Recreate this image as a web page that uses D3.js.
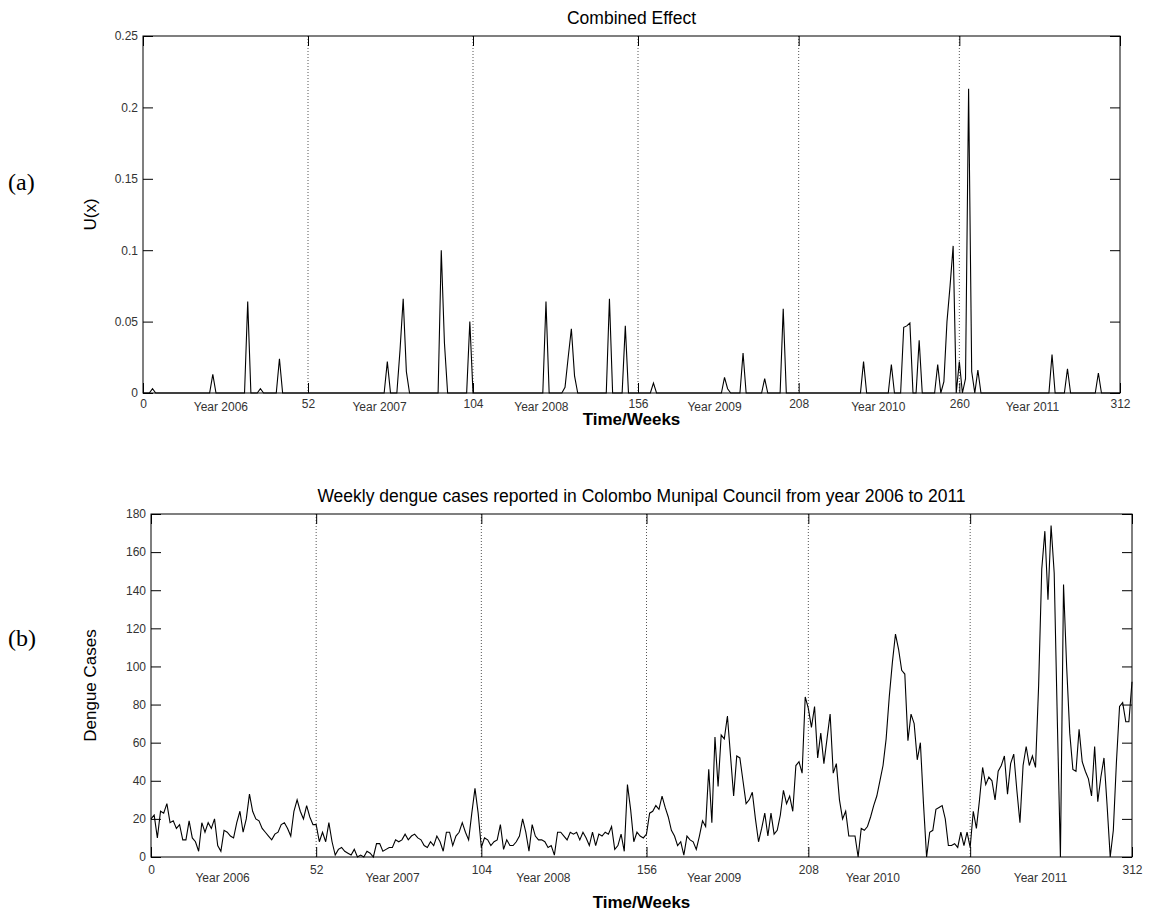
<!DOCTYPE html>
<html lang="en">
<head>
<meta charset="UTF-8">
<title>Combined Effect / Weekly dengue cases</title>
<script src="https://cdn.jsdelivr.net/npm/d3@7.9.0/dist/d3.min.js"></script>
<style>
    body { margin: 0; background: #fff; }
    svg { display: block; font-family: "Liberation Sans", Arial, sans-serif; }
    .tick text { font-size: 12px; fill: #333; }
    .tick line { stroke: #000; }
    .panel-tag { font-family: "Liberation Serif", "Times New Roman", serif; font-size: 24px; }
</style>
</head>
<body>
<svg id="chart" width="1156" height="914"></svg>
<script>
// ---- data ----
const weekTicks = [0, 52, 104, 156, 208, 260, 312];
const yearBounds = [52, 104, 156, 208, 260];
const yearLabels = ['Year 2006', 'Year 2007', 'Year 2008', 'Year 2009', 'Year 2010', 'Year 2011'];
const topYearLabelWeeks = [16, 66, 117, 172, 225, 275];
const bottomYearLabelWeeks = [14, 67.5, 115, 169, 220, 274];

// U(x): weeks where the combined effect is non zero (zero every other week)
const uxWeeks  = [3, 22, 33, 37, 43, 77, 81, 82, 83, 94, 95, 103, 127, 133, 134, 135, 136, 147, 152,
                  161, 184, 185, 190, 197, 203, 229, 238, 242, 243, 244, 247, 253, 255, 256, 257, 258,
                  260, 262, 263, 264, 266, 290, 295, 305];
const uxValues = [0.003, 0.013, 0.064, 0.003, 0.024, 0.022, 0.03, 0.066, 0.015, 0.1, 0.035, 0.05, 0.064, 0.004, 0.025, 0.045, 0.012, 0.066, 0.047,
                  0.007, 0.011, 0.003, 0.028, 0.01, 0.059, 0.022, 0.02, 0.046, 0.047, 0.049, 0.037, 0.02, 0.008, 0.05, 0.075, 0.103,
                  0.022, 0.01, 0.213, 0.015, 0.016, 0.027, 0.017, 0.014];
const uTicks = [0, 0.05, 0.1, 0.15, 0.2, 0.25];

// weekly dengue cases, one array per year
const cases2006 = [20, 22, 10, 24, 23, 28, 18, 19, 15, 17, 9, 9, 19, 10, 8, 3, 18, 13, 18, 15,
                   20, 6, 3, 14, 13, 11, 10, 18, 24, 13, 20, 33, 24, 20, 19, 15, 13, 11, 9, 12,
                   13, 17, 18, 15, 11, 24, 30, 24, 20, 27, 21, 17];
const cases2007 = [17, 8, 13, 8, 18, 8, 1, 4, 5, 3, 2, 1, 4, 0, 1, 0, 3, 2, 0, 7,
                   7, 3, 4, 5, 5, 9, 8, 9, 12, 9, 11, 12, 10, 9, 6, 5, 8, 6, 11, 8,
                   3, 13, 13, 6, 11, 13, 18, 13, 9, 23, 36, 23];
const cases2008 = [5, 10, 9, 6, 8, 9, 17, 4, 9, 6, 6, 8, 11, 20, 13, 3, 17, 11, 9, 9,
                   8, 5, 6, 1, 13, 13, 11, 9, 13, 12, 13, 9, 13, 10, 6, 13, 6, 12, 11, 13,
                   12, 16, 4, 6, 12, 3, 38, 25, 8, 13, 11, 10];
const cases2009 = [12, 23, 24, 27, 25, 32, 26, 21, 14, 11, 6, 8, 1, 11, 9, 8, 4, 11, 19, 16,
                   46, 18, 63, 37, 64, 62, 74, 53, 32, 53, 52, 40, 28, 30, 34, 20, 8, 15, 23, 11,
                   23, 12, 14, 22, 35, 28, 32, 24, 48, 50, 44, 84];
const cases2010 = [78, 68, 79, 52, 65, 49, 62, 75, 44, 49, 30, 20, 24, 11, 11, 11, 0, 15, 14, 16,
                   21, 27, 32, 40, 48, 62, 84, 102, 117, 109, 98, 96, 61, 75, 70, 51, 60, 28, 0, 13,
                   14, 25, 26, 27, 20, 6, 6, 7, 5, 13, 6, 13];
const cases2011 = [5, 24, 15, 30, 47, 38, 42, 40, 30, 45, 48, 53, 33, 49, 54, 35, 18, 48, 58, 48,
                   53, 47, 90, 151, 171, 135, 174, 149, 72, 0, 143, 100, 65, 46, 45, 67, 50, 45, 41, 32,
                   58, 29, 42, 52, 27, 0, 14, 50, 79, 81, 71, 71, 92];
const caseTicks = [0, 20, 40, 60, 80, 100, 120, 140, 160, 180];

// ---- build series ----
const uxByWeek = new Map(uxWeeks.map((w, i) => [w, uxValues[i]]));
const uxSeries = d3.range(0, 313).map(w => ({ week: w, value: uxByWeek.get(w) || 0 }));
const caseSeries = [].concat(cases2006, cases2007, cases2008, cases2009, cases2010, cases2011)
    .map((v, i) => ({ week: i, value: v }));

const svg = d3.select('#chart');
svg.append('rect').attr('width', 1156).attr('height', 914).attr('fill', '#fff');

// draws one MATLAB-like panel
function drawPanel(opts) {
    const { box, yDomain, yTicks, series, title, ylabel, yearWeeks, tag } = opts;
    // the scanned figure is a little stretched on the left half, so use a mid anchor
    const x = d3.scaleLinear().domain([0, 156, 312]).range([box.left, box.mid, box.right]);
    const y = d3.scaleLinear().domain(yDomain).range([box.bottom, box.top]);
    const g = svg.append('g');

    // dotted year separators
    g.selectAll('line.sep')
        .data(yearBounds)
        .enter()
        .append('line')
        .attr('class', 'sep')
        .attr('x1', d => x(d)).attr('x2', d => x(d))
        .attr('y1', box.top).attr('y2', box.bottom)
        .attr('stroke', '#555')
        .attr('stroke-width', 1)
        .attr('stroke-dasharray', '1,2');

    // axes with inward ticks on all four sides
    const bottomAx = g.append('g')
        .attr('transform', `translate(0,${box.bottom})`)
        .call(d3.axisBottom(x).tickValues(weekTicks).tickSize(-10).tickPadding(opts.xPad).tickFormat(d3.format('d')));
    g.append('g')
        .attr('transform', `translate(0,${box.top})`)
        .call(d3.axisTop(x).tickValues(weekTicks).tickSize(-10).tickFormat(''));
    g.append('g')
        .attr('transform', `translate(${box.left},0)`)
        .call(d3.axisLeft(y).tickValues(yTicks).tickSize(-10).tickPadding(5).tickFormat(d => String(d)));
    g.append('g')
        .attr('transform', `translate(${box.right},0)`)
        .call(d3.axisRight(y).tickValues(yTicks).tickSize(-10).tickFormat(''));
    g.selectAll('.domain').remove();
    bottomAx.selectAll('.tick text').attr('dy', '0.71em');

    // frame
    g.append('rect')
        .attr('x', box.left).attr('y', box.top)
        .attr('width', box.right - box.left).attr('height', box.bottom - box.top)
        .attr('fill', 'none').attr('stroke', '#000');

    // data line
    const line = d3.line().x(d => x(d.week)).y(d => y(d.value));
    g.append('path')
        .datum(series)
        .attr('d', line)
        .attr('fill', 'none')
        .attr('stroke', '#000')
        .attr('stroke-width', 1.1)
        .attr('stroke-linejoin', 'miter');

    // year labels under the axis
    g.selectAll('text.year')
        .data(yearLabels)
        .enter()
        .append('text')
        .attr('class', 'year')
        .attr('x', (d, i) => x(yearWeeks[i]))
        .attr('y', box.bottom + opts.yearDy)
        .attr('font-size', 12)
        .attr('fill', '#333')
        .text(d => d);

    // title and labels
    const cx = (box.left + box.right) / 2;
    g.append('text')
        .attr('x', cx).attr('y', box.top - 12)
        .attr('text-anchor', 'middle')
        .attr('font-size', 17.5)
        .text(title);
    g.append('text')
        .attr('x', cx).attr('y', box.bottom + opts.xlabelDy)
        .attr('text-anchor', 'middle')
        .attr('font-size', 17)
        .attr('font-weight', 'bold')
        .text('Time/Weeks');
    g.append('text')
        .attr('transform', `translate(${opts.ylabelX},${(box.top + box.bottom) / 2}) rotate(-90)`)
        .attr('text-anchor', 'middle')
        .attr('font-size', 17)
        .text(ylabel);
    g.append('text')
        .attr('class', 'panel-tag')
        .attr('x', 8).attr('y', opts.tagY)
        .text(tag);
}

drawPanel({
    box: { left: 143, mid: 638, right: 1120, top: 36, bottom: 393 },
    yDomain: [0, 0.25], yTicks: uTicks, series: uxSeries,
    title: 'Combined Effect', ylabel: 'U(x)', yearWeeks: topYearLabelWeeks, tag: '(a)',
    xPad: 6, yearDy: 18, xlabelDy: 32, ylabelX: 96, tagY: 190
});

drawPanel({
    box: { left: 151, mid: 646.5, right: 1132, top: 514, bottom: 857 },
    yDomain: [0, 180], yTicks: caseTicks, series: caseSeries,
    title: 'Weekly dengue cases reported in Colombo Munipal Council from year 2006 to 2011',
    ylabel: 'Dengue Cases', yearWeeks: bottomYearLabelWeeks, tag: '(b)',
    xPad: 8, yearDy: 25, xlabelDy: 51, ylabelX: 96, tagY: 646
});
</script>
</body>
</html>
